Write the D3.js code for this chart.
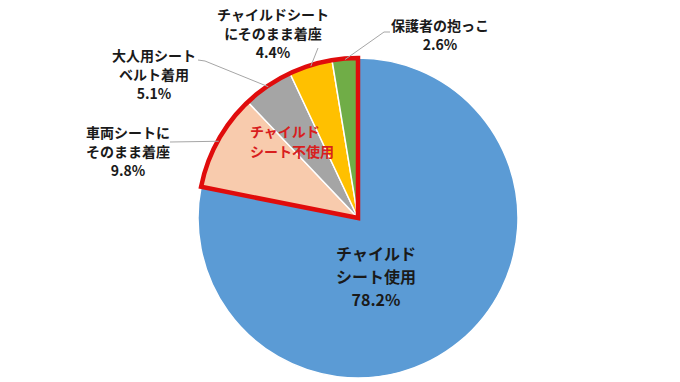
<!DOCTYPE html>
<html><head><meta charset="utf-8">
<script src="https://cdn.jsdelivr.net/npm/d3@7"></script>
<style>
html,body{margin:0;padding:0;background:#fff;}
text{font-family:"Noto Sans CJK JP","Noto Sans",sans-serif;}
</style></head>
<body>
<svg id="c" width="680" height="382"></svg>
<script>
const categories = ["チャイルドシート使用","車両シートにそのまま着座","大人用シートベルト着用","チャイルドシートにそのまま着座","保護者の抱っこ"];
const values = [78.2, 9.8, 5.1, 4.4, 2.6];
const valueLabels = ["78.2%","9.8%","5.1%","4.4%","2.6%"];
const labelLines = [["チャイルド","シート使用"],["車両シートに","そのまま着座"],["大人用シート","ベルト着用"],["チャイルドシート","にそのまま着座"],["保護者の抱っこ"]];
const groupLabel = ["チャイルド","シート不使用"];

const colors = ["#5B9BD5","#F8CBAD","#A5A5A5","#FFC000","#70AD47"];
const cx = 358, cy = 218, R = 160;
// label layout: [x, y of first line, lineHeight]
const layout = [
  {x:376, y:256, lh:23, size:16},
  {x:128, y:134, lh:19, size:14, line:[[170,142]]},
  {x:154, y:57, lh:19, size:14, line:[[198,60],[205,61]]},
  {x:273, y:16, lh:19, size:14, line:[[318,48]]},
  {x:440, y:27, lh:19, size:14, line:[[390,32],[384,32]]}
];

const svg = d3.select("#c");
const g = svg.append("g").attr("transform",`translate(${cx},${cy})`);
const pie = d3.pie().sort(null).value(d=>d);
const arcs = pie(values);
const arc = d3.arc().innerRadius(0).outerRadius(R);

g.selectAll("path.s").data(arcs).join("path")
  .attr("class","s")
  .attr("d",arc)
  .attr("fill",(d,i)=>colors[i])
  .attr("stroke","#fff").attr("stroke-width",1.5);

// red outline around non-use group
const start = arcs[1].startAngle, end = arcs[arcs.length-1].endAngle;
g.append("path")
  .attr("d", d3.arc().innerRadius(0).outerRadius(R)({startAngle:start,endAngle:end}))
  .attr("fill","none").attr("stroke","#E00C0C").attr("stroke-width",4.5)
  .attr("stroke-linejoin","miter");

// leader lines
arcs.forEach((a,i)=>{
  const L = layout[i];
  if(!L.line) return;
  const m = (a.startAngle+a.endAngle)/2;
  const p = [cx + (R-1)*Math.sin(m), cy - (R-1)*Math.cos(m)];
  const pts = L.line.concat([p]);
  svg.append("path").attr("d", d3.line()(pts))
    .attr("fill","none").attr("stroke","#A6A6A6").attr("stroke-width",1);
});

// labels
arcs.forEach((a,i)=>{
  const L = layout[i];
  const lines = labelLines[i].concat([valueLabels[i]]);
  const t = svg.append("text").attr("text-anchor","middle")
    .attr("font-size",L.size).attr("font-weight","bold").attr("fill","#1a1a1a");
  lines.forEach((s,k)=>{
    t.append("tspan").attr("x",L.x).attr("y",L.y + k*L.lh).attr("dominant-baseline","middle").text(s);
  });
});

// group label
const gt = svg.append("text").attr("font-size",14).attr("font-weight","bold").attr("fill","#D81E1E");
groupLabel.forEach((s,k)=>{
  gt.append("tspan").attr("x",250).attr("y",133+k*20).attr("dominant-baseline","middle").text(s);
});
</script>
</body></html>
